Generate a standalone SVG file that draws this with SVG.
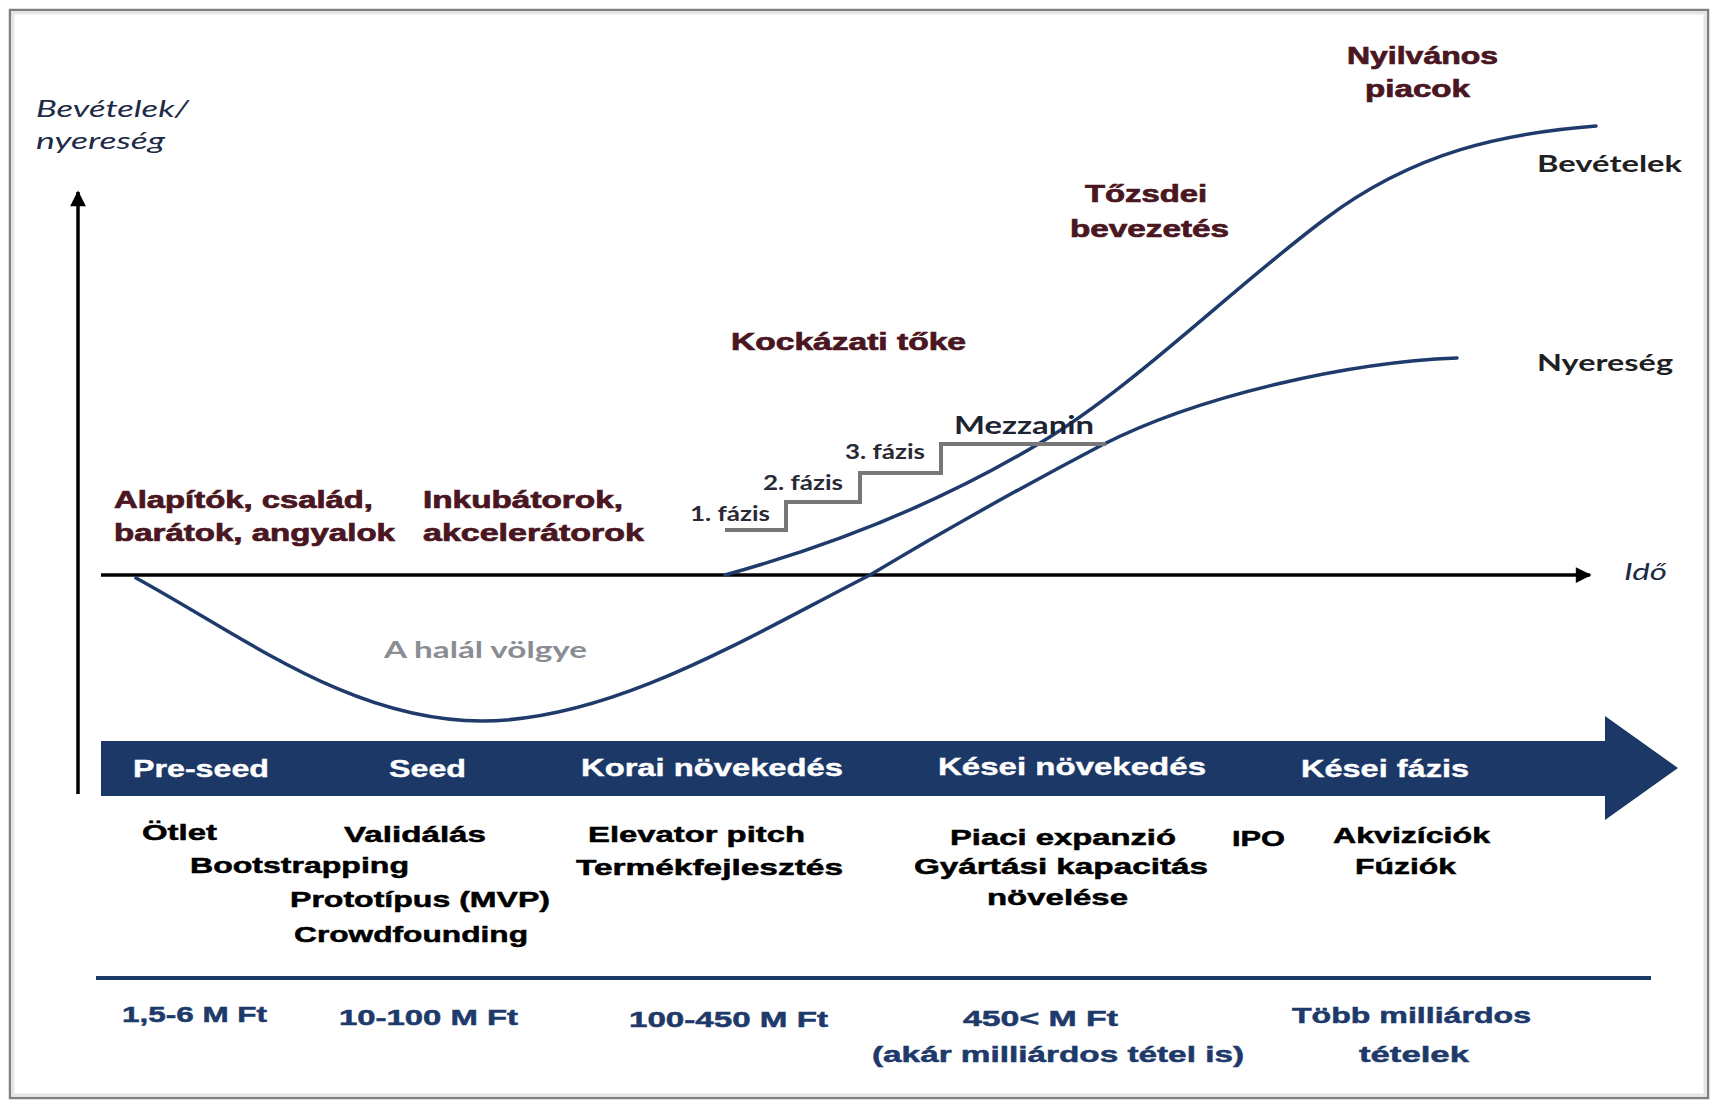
<svg xmlns="http://www.w3.org/2000/svg" width="1717" height="1107" viewBox="0 0 1717 1107">
<defs>
<style>
.mar{font-family:"Liberation Sans",Arial,sans-serif;font-weight:bold;font-size:23px;fill:#4a1621;stroke:#4a1621;stroke-width:0.7}
.band{font-family:"Liberation Sans",Arial,sans-serif;font-weight:bold;font-size:24px;fill:#ffffff;stroke:#ffffff;stroke-width:0.4}
.blk{font-family:"Liberation Sans",Arial,sans-serif;font-weight:bold;font-size:22px;fill:#000000;stroke:#000000;stroke-width:0.5}
.amt{font-family:"Liberation Sans",Arial,sans-serif;font-weight:bold;font-size:22px;fill:#1d3a6b;stroke:#1d3a6b;stroke-width:0.5}
.cal{font-family:Lato,"Open Sans",sans-serif;font-weight:bold;font-size:22px;fill:#1f1f24}
.ita{font-family:Lato,"Open Sans",sans-serif;font-style:italic;font-size:23px;fill:#1e2b47}
.faz{font-family:Lato,"Open Sans",sans-serif;font-weight:bold;font-size:20px;fill:#2a2a35}
.curve{fill:none;stroke:#1f3b6b;stroke-width:3.5;stroke-linecap:round}
.axis{fill:none;stroke:#000;stroke-width:3.5}
</style>
<marker id="ah" viewBox="0 0 10 10" refX="9" refY="5" markerWidth="6" markerHeight="4.5" markerUnits="strokeWidth" orient="auto">
<path d="M0,0 L10,5 L0,10 z" fill="#000"/>
</marker>
</defs>
<rect x="0" y="0" width="1717" height="1107" fill="#ffffff"/>
<rect id="frame" x="10" y="10" width="1698" height="1088" fill="none" stroke="#808080" stroke-width="2.5"/>
<rect x="13" y="13" width="1692" height="1082" fill="none" stroke="#e6e6e6" stroke-width="3"/>

<g id="connectors">
<line class="axis" x1="78" y1="794" x2="78" y2="192" marker-end="url(#ah)"/>
<line class="axis" x1="101" y1="575" x2="1590" y2="575" marker-end="url(#ah)"/>
<path id="revenue-curve" class="curve" d="M725,575 C830,546 935,506 1040,443 C1135,386 1230,290 1325,219 C1415,151 1506,133 1596,126"/>
<path id="profit-curve" class="curve" d="M136,578 C246,638 352,721 482,721 C612,721 750,636 870,575 C950,527 1022,487 1102,445 C1200,395 1350,362 1457,358"/>
<polyline id="stairs" fill="none" stroke="#777777" stroke-width="4" points="725,530 786,530 786,502 860,502 860,473 941,473 941,444 1106,444"/>
</g>

<g id="y-axis-label">
<text class="ita" x="36" y="117" textLength="153" lengthAdjust="spacingAndGlyphs">Bevételek/</text>
<text class="ita" x="36" y="149" textLength="129" lengthAdjust="spacingAndGlyphs">nyereség</text>
</g>
<g id="x-axis-label"><text class="ita" x="1624" y="580" textLength="43" lengthAdjust="spacingAndGlyphs">Idő</text></g>

<g id="nyilvanos-piacok">
<text class="mar" x="1347" y="64" textLength="151" lengthAdjust="spacingAndGlyphs">Nyilvános</text>
<text class="mar" x="1365" y="97" textLength="105" lengthAdjust="spacingAndGlyphs">piacok</text>
</g>
<g id="tozsdei-bevezetes">
<text class="mar" x="1085" y="202" textLength="122" lengthAdjust="spacingAndGlyphs">Tőzsdei</text>
<text class="mar" x="1070" y="237" textLength="159" lengthAdjust="spacingAndGlyphs">bevezetés</text>
</g>
<g id="kockazati-toke"><text class="mar" x="731" y="350" textLength="235" lengthAdjust="spacingAndGlyphs">Kockázati tőke</text></g>
<g id="alapitok">
<text class="mar" x="114" y="508" textLength="259" lengthAdjust="spacingAndGlyphs">Alapítók, család,</text>
<text class="mar" x="114" y="541" textLength="281" lengthAdjust="spacingAndGlyphs">barátok, angyalok</text>
</g>
<g id="inkubatorok">
<text class="mar" x="423" y="508" textLength="200" lengthAdjust="spacingAndGlyphs">Inkubátorok,</text>
<text class="mar" x="423" y="541" textLength="221" lengthAdjust="spacingAndGlyphs">akcelerátorok</text>
</g>

<g id="bevetelek-label"><text class="cal" x="1537" y="172" textLength="145" lengthAdjust="spacingAndGlyphs">Bevételek</text></g>
<g id="nyereseg-label"><text class="cal" x="1537" y="371" textLength="136" lengthAdjust="spacingAndGlyphs">Nyereség</text></g>
<g id="mezzanin"><text class="cal" x="954" y="434" style="font-size:24px;fill:#1c2333" textLength="140" lengthAdjust="spacingAndGlyphs">Mezzanin</text></g>
<g id="fazis-1"><text class="faz" x="690" y="521" textLength="80" lengthAdjust="spacingAndGlyphs">1. fázis</text></g>
<g id="fazis-2"><text class="faz" x="763" y="490" textLength="80" lengthAdjust="spacingAndGlyphs">2. fázis</text></g>
<g id="fazis-3"><text class="faz" x="845" y="459" textLength="80" lengthAdjust="spacingAndGlyphs">3. fázis</text></g>
<g id="halal-volgye"><text class="cal" x="384" y="658" style="fill:#8a8d94" textLength="203" lengthAdjust="spacingAndGlyphs">A halál völgye</text></g>

<g id="stage-band">
<path d="M101,741 L1605,741 L1605,716 L1678,768 L1605,820 L1605,796 L101,796 z" fill="#1c3867"/>
<text class="band" x="133" y="777" textLength="136" lengthAdjust="spacingAndGlyphs">Pre-seed</text>
<text class="band" x="389" y="777" textLength="77" lengthAdjust="spacingAndGlyphs">Seed</text>
<text class="band" x="581" y="776" textLength="262" lengthAdjust="spacingAndGlyphs">Korai növekedés</text>
<text class="band" x="938" y="775" textLength="268" lengthAdjust="spacingAndGlyphs">Kései növekedés</text>
<text class="band" x="1301" y="777" textLength="168" lengthAdjust="spacingAndGlyphs">Kései fázis</text>
</g>

<g id="preseed-items">
<text class="blk" x="142" y="840" textLength="75" lengthAdjust="spacingAndGlyphs">Ötlet</text>
<text class="blk" x="190" y="873" textLength="219" lengthAdjust="spacingAndGlyphs">Bootstrapping</text>
</g>
<g id="seed-items">
<text class="blk" x="344" y="842" textLength="142" lengthAdjust="spacingAndGlyphs">Validálás</text>
<text class="blk" x="290" y="907" textLength="260" lengthAdjust="spacingAndGlyphs">Prototípus (MVP)</text>
<text class="blk" x="294" y="942" textLength="234" lengthAdjust="spacingAndGlyphs">Crowdfounding</text>
</g>
<g id="early-items">
<text class="blk" x="588" y="842" textLength="217" lengthAdjust="spacingAndGlyphs">Elevator pitch</text>
<text class="blk" x="576" y="875" textLength="267" lengthAdjust="spacingAndGlyphs">Termékfejlesztés</text>
</g>
<g id="late-growth-items">
<text class="blk" x="950" y="845" textLength="226" lengthAdjust="spacingAndGlyphs">Piaci expanzió</text>
<text class="blk" x="914" y="874" textLength="294" lengthAdjust="spacingAndGlyphs">Gyártási kapacitás</text>
<text class="blk" x="987" y="905" textLength="141" lengthAdjust="spacingAndGlyphs">növelése</text>
</g>
<g id="ipo"><text class="blk" x="1232" y="846" textLength="53" lengthAdjust="spacingAndGlyphs">IPO</text></g>
<g id="late-phase-items">
<text class="blk" x="1333" y="843" textLength="157" lengthAdjust="spacingAndGlyphs">Akvizíciók</text>
<text class="blk" x="1355" y="874" textLength="101" lengthAdjust="spacingAndGlyphs">Fúziók</text>
</g>

<line id="separator" x1="96" y1="978" x2="1651" y2="978" stroke="#1d3a6b" stroke-width="4"/>

<g id="amounts">
<text class="amt" x="122" y="1022" textLength="145" lengthAdjust="spacingAndGlyphs">1,5-6 M Ft</text>
<text class="amt" x="339" y="1025" textLength="179" lengthAdjust="spacingAndGlyphs">10-100 M Ft</text>
<text class="amt" x="629" y="1027" textLength="199" lengthAdjust="spacingAndGlyphs">100-450 M Ft</text>
<text class="amt" x="963" y="1026" textLength="155" lengthAdjust="spacingAndGlyphs">450&lt; M Ft</text>
<text class="amt" x="872" y="1062" textLength="372" lengthAdjust="spacingAndGlyphs">(akár milliárdos tétel is)</text>
<text class="amt" x="1292" y="1023" textLength="239" lengthAdjust="spacingAndGlyphs">Több milliárdos</text>
<text class="amt" x="1359" y="1062" textLength="110" lengthAdjust="spacingAndGlyphs">tételek</text>
</g>
</svg>
